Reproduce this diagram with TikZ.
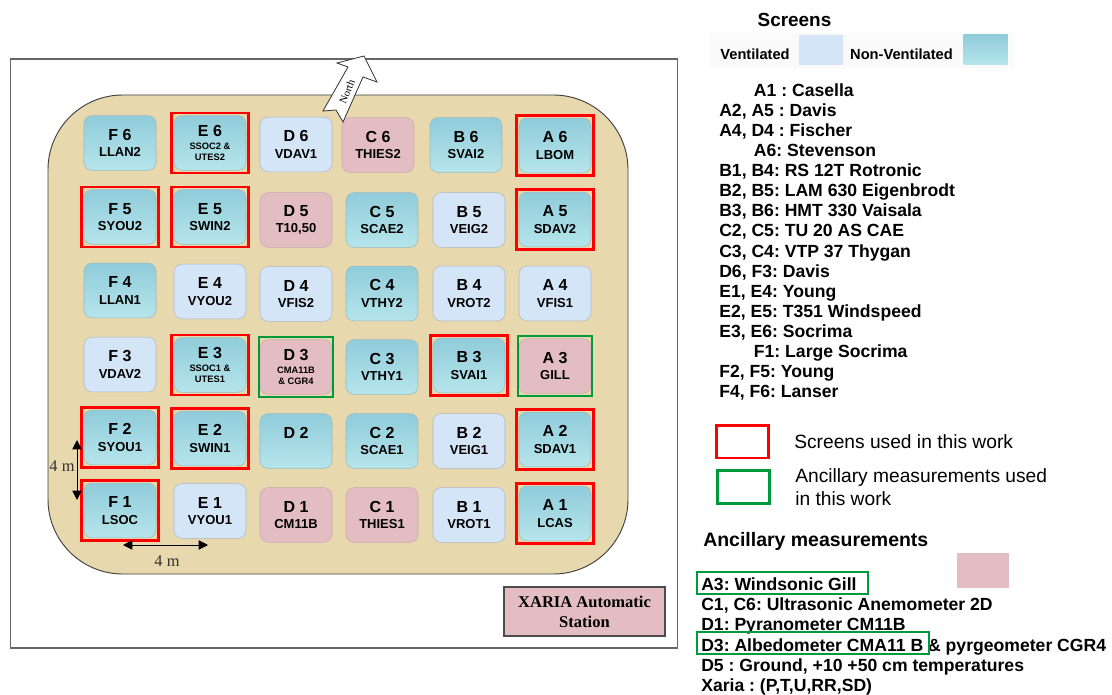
\documentclass[tikz,border=0pt]{standalone}
\usepackage{fontspec}
\setmainfont{Liberation Sans}
\newfontfamily\serifnote{Liberation Serif}
\usepackage{xcolor}
\usepackage{tikz}
\usetikzlibrary{arrows.meta,fit}
\definecolor{sand}{HTML}{E8D8AE}
\definecolor{ventblue}{HTML}{D5E5F8}
\definecolor{tealtop}{HTML}{90CCDA}
\definecolor{tealmid}{HTML}{ABDEE7}
\definecolor{tealbot}{HTML}{B6E5EB}
\definecolor{ancpink}{HTML}{E3BDC2}
\definecolor{usedred}{HTML}{FF0000}
\definecolor{ancgreen}{HTML}{009A3E}
\newcommand{\cid}[1]{{\fontsize{12}{12.3}\selectfont #1}}
\frenchspacing

\begin{document}
\begin{tikzpicture}[
      x=0.75pt, y=-0.75pt,
      cellbox/.style={rounded corners=6pt, minimum width=54pt, minimum height=41pt,
                  inner sep=0pt, align=center, font=\bfseries\fontsize{9.75}{12.3}\selectfont},
      vent/.style={cellbox, fill=ventblue, draw=gray!45!ventblue},
      nonvent/.style={cellbox, top color=tealtop, middle color=tealmid, bottom color=tealbot, draw=gray!40!tealmid},
      anc/.style={cellbox, fill=ancpink, draw=gray!30!ancpink},
      tiny/.style={font=\bfseries\fontsize{7}{8.25}\selectfont},
      usedframe/.style={draw=usedred, line width=2pt, inner sep=1.9pt},
      ancframe/.style={draw=ancgreen, line width=1.8pt, inner xsep=0.7pt, inner ysep=1.9pt},
      swatch/.style={minimum width=33pt, minimum height=22.5pt, inner sep=0pt},
      keybox/.style={minimum width=39pt, minimum height=24.5pt, inner sep=0pt, line width=2pt},
      listing/.style={anchor=north west, inner sep=0pt, align=left, font=\bfseries\fontsize{13.2}{15.05}\selectfont},
      dist/.style={{Stealth[length=7pt,width=7pt,inset=0pt]}-{Stealth[length=7pt,width=7pt,inset=0pt]}, line width=0.7pt},
      distlabel/.style={font=\serifnote\fontsize{12.3}{14}\selectfont, text=black!80}
    ]
    \useasboundingbox (0,0) rectangle (1112,695);

    % Site
    \node[draw=black!60, line width=1.1pt, minimum width=500.25pt, minimum height=441.75pt] (plot) at (344.25,353.5) {};
    \node[draw=black!75, line width=0.7pt, fill=sand, rounded corners=56pt, minimum width=435pt, minimum height=359.25pt] (site) at (338,334.5) {};

    % Row 6
    \node[nonvent] (F6) at (120,143) {\cid{F 6}\\LLAN2};
    \node[nonvent, tiny] (E6) at (210,143) {\cid{E 6}\\[1.5pt]SSOC2 \&\\UTES2};
    \node[vent]    (D6) at (296,144.5) {\cid{D 6}\\VDAV1};
    \node[anc]     (C6) at (378,145) {\cid{C 6}\\THIES2};
    \node[nonvent] (B6) at (466,145) {\cid{B 6}\\SVAI2};
    \node[nonvent] (A6) at (555,145.5) {\cid{A 6}\\LBOM};
    % Row 5
    \node[nonvent] (F5) at (120,217) {\cid{F 5}\\SYOU2};
    \node[nonvent] (E5) at (210,217) {\cid{E 5}\\SWIN2};
    \node[anc]     (D5) at (296,220) {\cid{D 5}\\T10,50};
    \node[nonvent] (C5) at (382,220) {\cid{C 5}\\SCAE2};
    \node[vent]    (B5) at (469,220) {\cid{B 5}\\VEIG2};
    \node[nonvent] (A5) at (555,219.5) {\cid{A 5}\\SDAV2};
    % Row 4
    \node[nonvent] (F4) at (120,290.5) {\cid{F 4}\\LLAN1};
    \node[vent]    (E4) at (210,291.5) {\cid{E 4}\\VYOU2};
    \node[vent]    (D4) at (296,294) {\cid{D 4}\\VFIS2};
    \node[nonvent] (C4) at (382,293.5) {\cid{C 4}\\VTHY2};
    \node[vent]    (B4) at (469,293.5) {\cid{B 4}\\VROT2};
    \node[vent]    (A4) at (555,293.5) {\cid{A 4}\\VFIS1};
    % Row 3
    \node[vent]    (F3) at (120,364.5) {\cid{F 3}\\VDAV2};
    \node[nonvent, tiny] (E3) at (210,365) {\cid{E 3}\\[1.5pt]SSOC1 \&\\UTES1};
    \node[anc, tiny] (D3) at (296,367) {\cid{D 3}\\[1.5pt]CMA11B\\\& CGR4};
    \node[nonvent] (C3) at (382,367) {\cid{C 3}\\VTHY1};
    \node[nonvent] (B3) at (469,365.5) {\cid{B 3}\\SVAI1};
    \node[anc]     (A3) at (555,366) {\cid{A 3}\\GILL};
    % Row 2
    \node[nonvent] (F2) at (120,437.5) {\cid{F 2}\\SYOU1};
    \node[nonvent] (E2) at (210,438.5) {\cid{E 2}\\SWIN1};
    \node[nonvent] (D2) at (296,441) {\cid{D 2}\\~};
    \node[nonvent] (C2) at (382,441) {\cid{C 2}\\SCAE1};
    \node[vent]    (B2) at (469,441) {\cid{B 2}\\VEIG1};
    \node[nonvent] (A2) at (555,439.5) {\cid{A 2}\\SDAV1};
    % Row 1
    \node[nonvent] (F1) at (120,510.5) {\cid{F 1}\\LSOC};
    \node[vent]    (E1) at (210,511) {\cid{E 1}\\VYOU1};
    \node[anc]     (D1) at (296,515) {\cid{D 1}\\CM11B};
    \node[anc]     (C1) at (382,515) {\cid{C 1}\\THIES1};
    \node[vent]    (B1) at (469,515) {\cid{B 1}\\VROT1};
    \node[nonvent] (A1) at (555,513.5) {\cid{A 1}\\LCAS};

    % Frames
    \node[usedframe, fit=(E6)] (frE6) {};
    \node[usedframe, fit=(A6)] (frA6) {};
    \node[usedframe, fit=(F5)] (frF5) {};
    \node[usedframe, fit=(E5)] (frE5) {};
    \node[usedframe, fit=(A5)] (frA5) {};
    \node[usedframe, fit=(E3)] (frE3) {};
    \node[usedframe, fit=(B3)] (frB3) {};
    \node[usedframe, fit=(F2)] (frF2) {};
    \node[usedframe, fit=(E2)] (frE2) {};
    \node[usedframe, fit=(A2)] (frA2) {};
    \node[usedframe, fit=(F1)] (frF1) {};
    \node[usedframe, fit=(A1)] (frA1) {};
    \node[ancframe, fit=(D3)] (frD3) {};
    \node[ancframe, fit=(A3)] (frA3) {};

    % North arrow
    \draw[fill=white, draw=black!80, line width=0.6pt] (364,56) -- (377,82) -- (363,77) -- (343,122)
      -- (336,110) -- (323,111) -- (348,67) -- (337,63) -- cycle;
    \node[rotate=68, inner sep=0pt, font=\serifnote\fontsize{8}{9}\selectfont] (north) at (347,92) {North};

    % Distances
    \coordinate (vtop) at (77,440);
    \coordinate (vbot) at (77,500);
    \coordinate (hleft) at (123,545);
    \coordinate (hright) at (208,545);
    \draw[dist] (vtop) -- (vbot);
    \draw[dist] (hleft) -- (hright);
    \node[distlabel] (vlabel) at (62,466) {4 m};
    \node[distlabel] (hlabel) at (167,561) {4 m};

    \node[draw=black!70, line width=0.9pt, fill=ancpink, minimum width=120.75pt, minimum height=36.75pt, inner sep=0pt,
          align=center, font=\serifnote\bfseries\fontsize{12.4}{15}\selectfont] (xaria) at (584.5,611.5) {XARIA Automatic\\Station};

    % Screens legend
    \node[inner sep=0pt, font=\bfseries\fontsize{14.2}{16}\selectfont] (screens) at (794.5,20) {Screens};
    \node[fill=black!2, minimum width=228.75pt, minimum height=26.25pt, inner sep=0pt] (keyrow) at (862.5,50.5) {};
    \node[inner sep=0pt, font=\bfseries\fontsize{11}{13}\selectfont] (ventlabel) at (755,54) {Ventilated};
    \node[swatch, fill=ventblue] (ventkey) at (821,50) {};
    \node[inner sep=0pt, font=\bfseries\fontsize{11}{13}\selectfont] (nonventlabel) at (901.5,54) {Non-Ventilated};
    \node[swatch, top color=tealtop, bottom color=tealbot] (nonventkey) at (985.5,50) {};

    \node[listing] (screenlist) at (719,83.5) {\hspace*{26pt}A1 : Casella\\
      A2, A5 : Davis\\
      A4, D4 : Fischer\\
      \hspace*{26pt}A6: Stevenson\\
      B1, B4: RS 12T Rotronic\\
      B2, B5: LAM 630 Eigenbrodt\\
      B3, B6: HMT 330 Vaisala\\
      C2, C5: TU 20 AS CAE\\
      C3, C4: VTP 37 Thygan\\
      D6, F3: Davis\\
      E1, E4: Young\\
      E2, E5: T351 Windspeed\\
      E3, E6: Socrima\\
      \hspace*{26pt}F1: Large Socrima\\
      F2, F5: Young\\
      F4, F6: Lanser};

    % Frame key
    \node[keybox, draw=usedred] (usedkey) at (742.5,441.5) {};
    \node[keybox, draw=ancgreen] (anckey) at (743.5,487) {};
    \node[anchor=west, inner sep=0pt, font=\fontsize{14.4}{17.25}\selectfont] (usedlabel) at (794,442) {Screens used in this work};
    \node[anchor=west, inner sep=0pt, align=left, font=\fontsize{14.4}{17.25}\selectfont] (anclabel) at (795,487.5) {Ancillary measurements used\\in this work};

    % Ancillary legend
    \node[anchor=west, inner sep=0pt, font=\bfseries\fontsize{14.6}{16}\selectfont] (ancillary) at (703,541) {Ancillary measurements};
    \node[swatch, fill=ancpink, minimum width=39pt, minimum height=26.25pt] (anckeypink) at (983,570.5) {};
    \node[listing, font=\bfseries\fontsize{13.2}{15.15}\selectfont] (anclist) at (701,577.5) {A3: Windsonic Gill\\
      C1, C6: Ultrasonic Anemometer 2D\\
      D1: Pyranometer CM11B\\
      D3: Albedometer CMA11 B \& pyrgeometer CGR4\\
      D5 : Ground, +10 +50 cm temperatures\\
      Xaria : (P,T,U,RR,SD)};
    \node[draw=ancgreen, line width=1.5pt, minimum width=128.25pt, minimum height=16.5pt, inner sep=0pt] (frgill) at (782.5,583) {};
    \node[draw=ancgreen, line width=1.5pt, minimum width=174pt, minimum height=16.5pt, inner sep=0pt] (frcma) at (813,643) {};
  \end{tikzpicture}
\end{document}
